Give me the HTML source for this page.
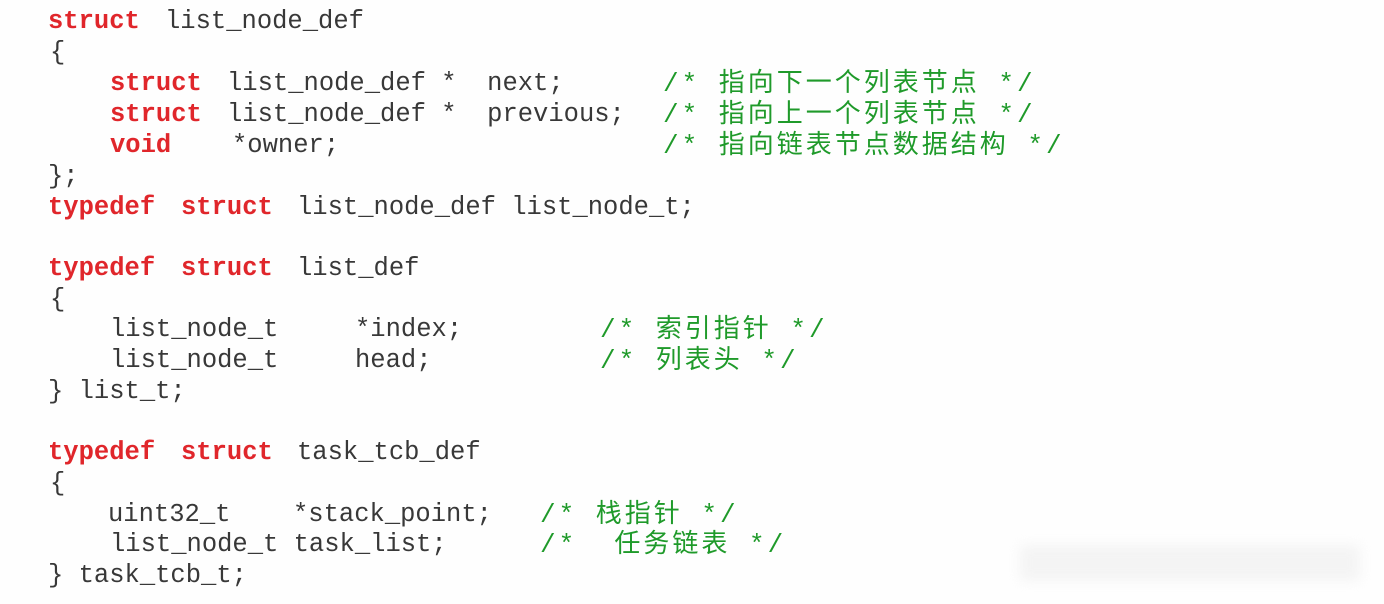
<!DOCTYPE html>
<html><head><meta charset="utf-8"><style>
html,body{margin:0;padding:0;background:#fff;}
#c{position:relative;width:1384px;height:604px;overflow:hidden;background:#fefefe;font-family:"Liberation Mono","Noto Sans CJK SC",monospace;font-size:25.5px;color:#383838;}
#c span{position:absolute;white-space:pre;line-height:30px;}
.k{color:#e0262b;font-weight:bold;}
.g{color:#1f9a2a;letter-spacing:3px;font-size:26px;}
.wm{position:absolute;left:1020px;top:545px;width:340px;height:36px;background:#f0f0f0;filter:blur(6px);opacity:.7;}
</style></head><body><div id="c">
<span class="k" style="left:48px;top:7px">struct</span><span style="left:165px;top:7px">list_node_def</span>
<span style="left:50px;top:38px">{</span>
<span class="k" style="left:110px;top:69px">struct</span><span style="left:227px;top:69px">list_node_def *  next;</span><span class="g" style="left:663px;top:69px">/* 指向下一个列表节点 */</span>
<span class="k" style="left:110px;top:100px">struct</span><span style="left:227px;top:100px">list_node_def *  previous;</span><span class="g" style="left:663px;top:100px">/* 指向上一个列表节点 */</span>
<span class="k" style="left:110px;top:131px">void</span><span style="left:232px;top:131px">*owner;</span><span class="g" style="left:663px;top:131px">/* 指向链表节点数据结构 */</span>
<span style="left:48px;top:162px">};</span>
<span class="k" style="left:48px;top:193px">typedef</span><span class="k" style="left:181px;top:193px">struct</span><span style="left:297px;top:193px">list_node_def list_node_t;</span>
<span class="k" style="left:48px;top:254px">typedef</span><span class="k" style="left:181px;top:254px">struct</span><span style="left:297px;top:254px">list_def</span>
<span style="left:50px;top:285px">{</span>
<span style="left:110px;top:315px">list_node_t</span><span style="left:355px;top:315px">*index;</span><span class="g" style="left:600px;top:315px">/* 索引指针 */</span>
<span style="left:110px;top:346px">list_node_t</span><span style="left:355px;top:346px">head;</span><span class="g" style="left:600px;top:346px">/* 列表头 */</span>
<span style="left:48px;top:377px">} list_t;</span>
<span class="k" style="left:48px;top:438px">typedef</span><span class="k" style="left:181px;top:438px">struct</span><span style="left:297px;top:438px">task_tcb_def</span>
<span style="left:50px;top:469px">{</span>
<span style="left:108px;top:500px">uint32_t</span><span style="left:293px;top:500px">*stack_point;</span><span class="g" style="left:540px;top:500px">/* 栈指针 */</span>
<span style="left:110px;top:530px">list_node_t task_list;</span><span class="g" style="left:540px;top:530px">/*  任务链表 */</span>
<span style="left:48px;top:561px">} task_tcb_t;</span>
<div class="wm"></div>
</div></body></html>
